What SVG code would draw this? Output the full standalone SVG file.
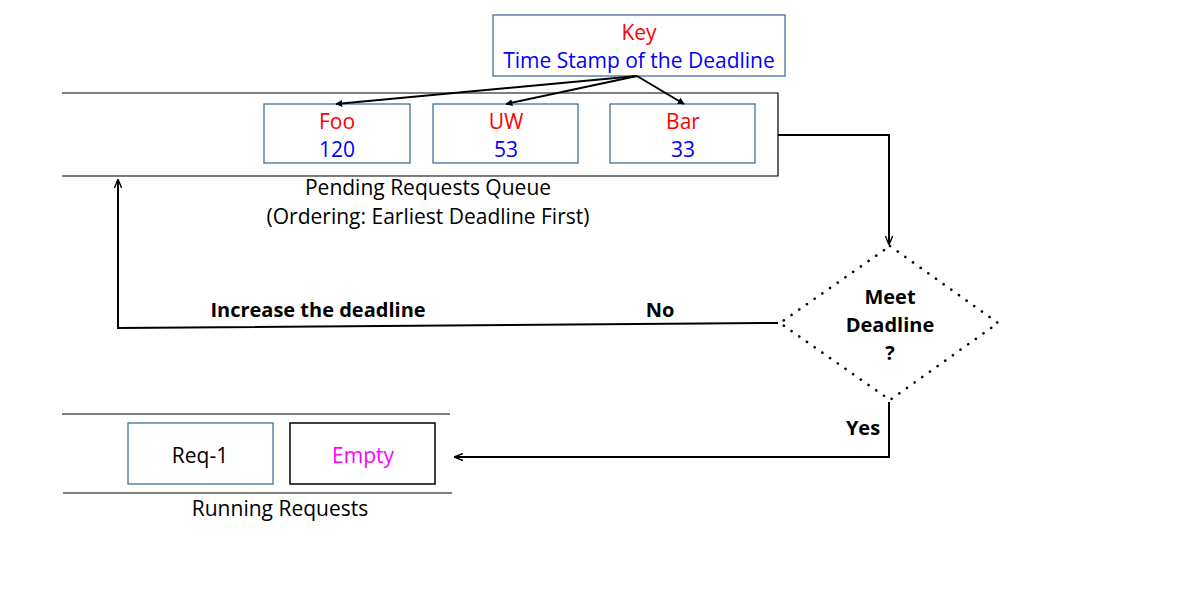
<svg xmlns="http://www.w3.org/2000/svg" width="1197" height="594" viewBox="0 0 1197 594">
<defs>
<style>
text{font-family:"Open Sans","Liberation Sans",sans-serif;font-size:21px;text-anchor:middle}
.r{fill:#ff0000}.b{fill:#0000ff}.k{fill:#000}.m{fill:#ff00ff}
.bold{font-weight:bold;font-size:20px}
.box{fill:#fff;stroke:#41719c;stroke-width:1.3}
.kbox{fill:#fff;stroke:#000;stroke-width:1.5}
.ln{stroke:#000;stroke-width:1.2;fill:none}
.conn{stroke:#000;stroke-width:2;fill:none}
</style>
<marker id="ah" viewBox="0 0 10 10" refX="9" refY="5" markerWidth="7" markerHeight="7" orient="auto-start-reverse" markerUnits="userSpaceOnUse">
<path d="M0,0 L10,5 L0,10 z" fill="#000"/>
</marker>
<marker id="ao" viewBox="0 0 10 10" refX="9" refY="5" markerWidth="9" markerHeight="9" orient="auto" markerUnits="userSpaceOnUse">
<path d="M0,1 L10,5 L0,9" fill="none" stroke="#000" stroke-width="1.5"/>
</marker>
</defs>
<rect width="1197" height="594" fill="#fff"/>

<g id="key">
<rect class="box" x="493" y="15" width="292" height="61"/>
<text class="r" x="639" y="40">Key</text>
<text class="b" x="639" y="68">Time Stamp of the Deadline</text>
</g>

<g id="pending-queue">
<path class="ln" d="M62,93 H778 V176 H62"/>
<text class="k" x="428" y="195">Pending Requests Queue</text>
<text class="k" x="428" y="224">(Ordering: Earliest Deadline First)</text>
</g>

<g id="foo">
<rect class="box" x="264" y="104" width="146" height="59"/>
<text class="r" x="337" y="129">Foo</text>
<text class="b" x="337" y="157">120</text>
</g>
<g id="uw">
<rect class="box" x="433" y="104" width="145" height="59"/>
<text class="r" x="506" y="129">UW</text>
<text class="b" x="506" y="157">53</text>
</g>
<g id="bar">
<rect class="box" x="610" y="104" width="145" height="59"/>
<text class="r" x="683" y="129">Bar</text>
<text class="b" x="683" y="157">33</text>
</g>

<g id="decision">
<polygon points="890,246 998,323 890,400 780,323" fill="none" stroke="#000" stroke-width="2.6" stroke-dasharray="0.1 9.3" stroke-linecap="round"/>
<text class="k bold" x="890" y="304">Meet</text>
<text class="k bold" x="890" y="332">Deadline</text>
<text class="k bold" x="890" y="360">?</text>
</g>

<g id="running-queue">
<line class="ln" x1="62" y1="414" x2="450" y2="414"/>
<line class="ln" x1="63" y1="493" x2="452" y2="493"/>
<text class="k" x="280" y="516">Running Requests</text>
</g>
<g id="req-1">
<rect class="box" x="128" y="423" width="145" height="61"/>
<text class="k" x="200" y="463">Req-1</text>
</g>
<g id="empty">
<rect class="kbox" x="290" y="423" width="145" height="61"/>
<text class="m" x="363" y="463">Empty</text>
</g>

<g id="connectors">
<line class="conn" x1="637" y1="76" x2="336" y2="104" marker-end="url(#ah)"/>
<line class="conn" x1="637" y1="76" x2="506" y2="104" marker-end="url(#ah)"/>
<line class="conn" x1="637" y1="76" x2="684" y2="104" marker-end="url(#ah)"/>
<path class="conn" d="M778,135 H889 V244" marker-end="url(#ao)"/>
<path class="conn" d="M778,323 L118,328 V180" marker-end="url(#ao)"/>
<path class="conn" d="M889,402 V457 H455" marker-end="url(#ao)"/>
<text class="k bold" x="318" y="317">Increase the deadline</text>
<text class="k bold" x="660" y="317">No</text>
<text class="k bold" x="863" y="435">Yes</text>
</g>
</svg>
